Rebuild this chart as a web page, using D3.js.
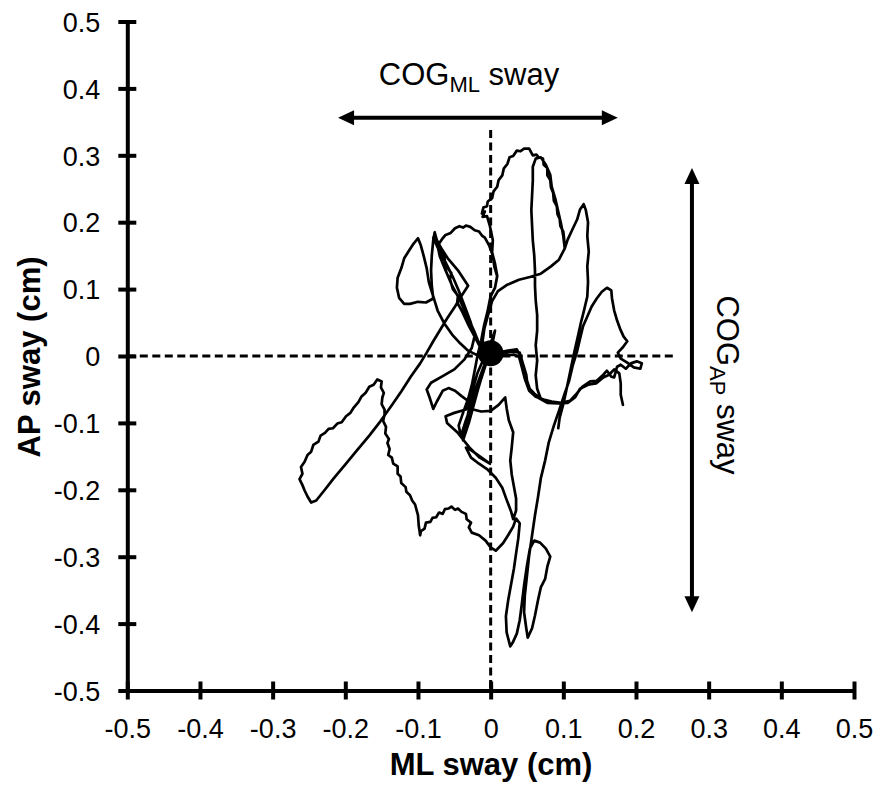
<!DOCTYPE html>
<html><head><meta charset="utf-8">
<script src="https://cdn.jsdelivr.net/npm/d3@7"></script>
<style>body{margin:0;background:#fff}svg{display:block}text{font-family:"Liberation Sans",Arial,sans-serif}</style>
</head><body><svg id="c" width="882" height="789"></svg>
<script>
const tickValues = [-0.5,-0.4,-0.3,-0.2,-0.1,0,0.1,0.2,0.3,0.4,0.5];
const tickLabels = ["-0.5","-0.4","-0.3","-0.2","-0.1","0","0.1","0.2","0.3","0.4","0.5"];
const xTitle = "ML sway (cm)";
const yTitle = "AP sway (cm)";
// COG trace, [ML, AP] in cm
const seg1 = [[0.093,-0.108],[0.095,-0.092],[0.100,-0.072],[0.104,-0.052],[0.108,-0.031],[0.112,-0.010],[0.116,0.010],[0.120,0.029],[0.124,0.049],[0.128,0.066],[0.133,0.089],[0.134,0.111],[0.133,0.134],[0.135,0.156],[0.133,0.179],[0.134,0.200],[0.131,0.218],[0.128,0.227],[0.123,0.219],[0.119,0.204],[0.112,0.188],[0.106,0.174],[0.102,0.161]];
const seg2 = [[0.101,0.176],[0.100,0.186],[0.096,0.194],[0.095,0.205],[0.092,0.212],[0.091,0.224],[0.087,0.232],[0.086,0.244],[0.083,0.252],[0.082,0.263],[0.078,0.270],[0.078,0.281],[0.073,0.286],[0.072,0.295],[0.066,0.297],[0.063,0.301],[0.058,0.300],[0.053,0.310],[0.046,0.310],[0.041,0.306],[0.036,0.307],[0.031,0.299],[0.026,0.297],[0.023,0.287],[0.018,0.280],[0.016,0.270],[0.011,0.263],[0.009,0.253],[0.004,0.246],[0.002,0.236],[-0.004,0.231],[-0.005,0.224],[-0.010,0.222],[-0.012,0.213],[-0.008,0.216],[-0.011,0.208],[-0.005,0.209],[-0.001,0.194],[0.003,0.173],[0.002,0.155],[0.006,0.138],[0.009,0.120],[0.006,0.102],[0.000,0.089],[-0.004,0.068],[-0.008,0.046],[-0.011,0.023],[-0.005,0.005]];
const seg3 = [[0.006,0.002],[0.017,0.004],[0.029,0.007],[0.040,0.005],[0.044,-0.010],[0.049,-0.028],[0.051,-0.046],[0.060,-0.056],[0.069,-0.064],[0.064,-0.049],[0.062,-0.029],[0.064,-0.007],[0.062,0.016],[0.064,0.038],[0.064,0.061],[0.062,0.083],[0.061,0.105],[0.061,0.128],[0.060,0.150],[0.058,0.173],[0.057,0.195],[0.056,0.218],[0.057,0.240],[0.058,0.262],[0.058,0.283],[0.062,0.295],[0.069,0.297],[0.076,0.286],[0.082,0.271],[0.084,0.253],[0.089,0.235],[0.093,0.216],[0.097,0.197],[0.100,0.179],[0.102,0.161],[0.094,0.144],[0.083,0.134],[0.069,0.123],[0.054,0.118],[0.039,0.114],[0.022,0.106],[0.010,0.097],[0.002,0.082],[-0.005,0.056],[-0.011,0.031],[-0.015,0.008],[-0.009,-0.004],[0.005,-0.001],[0.020,0.001],[0.032,0.002],[0.039,-0.001],[0.043,-0.017],[0.047,-0.034],[0.053,-0.052],[0.062,-0.061],[0.073,-0.065]];
const seg4 = [[0.084,-0.068],[0.097,-0.070],[0.109,-0.067],[0.117,-0.058],[0.126,-0.046],[0.137,-0.038],[0.146,-0.037],[0.155,-0.028],[0.160,-0.022],[0.166,-0.031],[0.170,-0.032],[0.174,-0.016],[0.179,-0.013],[0.186,-0.019],[0.193,-0.011],[0.201,-0.008],[0.208,-0.011]];
const seg5 = [[0.206,-0.019],[0.197,-0.017],[0.188,-0.010],[0.179,-0.004],[0.175,0.005],[0.182,0.013],[0.188,0.022],[0.183,0.029],[0.178,0.041],[0.174,0.053],[0.170,0.068],[0.167,0.086],[0.166,0.098],[0.160,0.102],[0.153,0.096],[0.146,0.086],[0.139,0.074],[0.133,0.059],[0.127,0.044],[0.123,0.026],[0.119,0.007],[0.113,-0.014],[0.108,-0.037],[0.101,-0.059],[0.094,-0.082],[0.087,-0.104],[0.080,-0.129],[0.075,-0.156],[0.069,-0.183],[0.065,-0.212],[0.061,-0.238],[0.057,-0.268],[0.053,-0.298],[0.050,-0.328],[0.047,-0.358],[0.046,-0.383],[0.049,-0.407],[0.051,-0.421]];
const seg6 = [[0.057,-0.407],[0.061,-0.388],[0.065,-0.366],[0.069,-0.346],[0.075,-0.333],[0.078,-0.315],[0.082,-0.300],[0.076,-0.288],[0.068,-0.279],[0.060,-0.276],[0.054,-0.288],[0.050,-0.313],[0.046,-0.343],[0.043,-0.370],[0.040,-0.395],[0.036,-0.415],[0.031,-0.427],[0.027,-0.434],[0.022,-0.413],[0.021,-0.389],[0.024,-0.366],[0.028,-0.342],[0.032,-0.318],[0.035,-0.295],[0.038,-0.273],[0.040,-0.250],[0.035,-0.243],[0.031,-0.255],[0.024,-0.268],[0.017,-0.280],[0.007,-0.291],[0.000,-0.286],[-0.007,-0.276],[-0.016,-0.268],[-0.026,-0.264],[-0.030,-0.256],[-0.027,-0.249],[-0.033,-0.244],[-0.034,-0.236],[-0.040,-0.233],[-0.045,-0.228],[-0.049,-0.230],[-0.054,-0.225],[-0.058,-0.228],[-0.063,-0.229],[-0.066,-0.236],[-0.071,-0.234],[-0.075,-0.241],[-0.080,-0.242],[-0.083,-0.248],[-0.089,-0.249],[-0.091,-0.258],[-0.096,-0.262],[-0.097,-0.268],[-0.099,-0.253],[-0.100,-0.238]];
const seg7 = [[-0.104,-0.222],[-0.108,-0.216],[-0.111,-0.208],[-0.116,-0.203],[-0.117,-0.196],[-0.123,-0.190],[-0.124,-0.180],[-0.128,-0.176],[-0.128,-0.165],[-0.134,-0.161],[-0.136,-0.152],[-0.141,-0.148],[-0.139,-0.139],[-0.142,-0.130],[-0.140,-0.124],[-0.145,-0.116],[-0.144,-0.106],[-0.148,-0.097],[-0.146,-0.088],[-0.146,-0.080],[-0.150,-0.072],[-0.149,-0.062],[-0.147,-0.055],[-0.151,-0.047],[-0.150,-0.038],[-0.156,-0.035],[-0.161,-0.043],[-0.167,-0.046],[-0.172,-0.055],[-0.178,-0.061],[-0.182,-0.069],[-0.189,-0.078],[-0.193,-0.085],[-0.199,-0.090],[-0.205,-0.099],[-0.211,-0.101],[-0.217,-0.108],[-0.223,-0.109],[-0.228,-0.115],[-0.234,-0.119],[-0.237,-0.128],[-0.244,-0.133],[-0.247,-0.143],[-0.252,-0.148],[-0.256,-0.158],[-0.261,-0.166],[-0.259,-0.176],[-0.263,-0.184],[-0.259,-0.193],[-0.256,-0.201],[-0.252,-0.210],[-0.247,-0.219],[-0.240,-0.216],[-0.229,-0.201],[-0.216,-0.183],[-0.199,-0.161],[-0.184,-0.141],[-0.167,-0.119],[-0.152,-0.098],[-0.137,-0.075],[-0.123,-0.053],[-0.110,-0.031],[-0.097,-0.011],[-0.088,0.005],[-0.079,0.022],[-0.070,0.038],[-0.060,0.056],[-0.049,0.074],[-0.040,0.090],[-0.031,0.105]];
const seg8 = [[-0.045,0.128],[-0.059,0.146],[-0.068,0.161],[-0.074,0.173],[-0.077,0.185],[-0.079,0.173],[-0.081,0.150],[-0.082,0.128],[-0.081,0.105],[-0.079,0.086],[-0.089,0.080],[-0.100,0.081],[-0.111,0.078],[-0.119,0.078],[-0.126,0.087],[-0.129,0.102],[-0.128,0.117],[-0.123,0.131],[-0.119,0.146],[-0.112,0.158],[-0.106,0.168],[-0.100,0.176],[-0.096,0.165],[-0.092,0.149],[-0.088,0.131],[-0.085,0.110],[-0.079,0.089],[-0.073,0.068],[-0.064,0.049],[-0.053,0.032],[-0.042,0.019],[-0.031,0.008],[-0.020,0.002],[-0.009,-0.001]];
const seg9 = [[-0.015,0.016],[-0.023,0.038],[-0.033,0.061],[-0.042,0.083],[-0.053,0.105],[-0.062,0.128],[-0.070,0.149],[-0.073,0.165],[-0.066,0.176],[-0.062,0.181],[-0.055,0.184],[-0.049,0.191],[-0.043,0.194],[-0.038,0.192],[-0.034,0.195],[-0.028,0.193],[-0.022,0.188],[-0.016,0.186],[-0.012,0.180],[-0.008,0.177],[-0.002,0.165],[0.003,0.150],[0.005,0.134],[0.009,0.119],[0.006,0.102],[0.000,0.090],[-0.004,0.068],[-0.009,0.046],[-0.013,0.023],[-0.018,0.001],[-0.022,-0.022],[-0.026,-0.044],[-0.031,-0.064],[-0.038,-0.085],[-0.044,-0.104],[-0.041,-0.120]];
const seg10 = [[-0.034,-0.096],[-0.023,-0.064],[-0.013,-0.034],[-0.005,-0.007],[0.002,0.016],[0.006,0.038],[-0.001,0.016],[-0.009,-0.014],[-0.019,-0.044],[-0.029,-0.074],[-0.032,-0.092],[-0.026,-0.067],[-0.016,-0.037],[-0.007,-0.010],[0.000,0.011],[-0.006,-0.008],[-0.016,-0.044],[-0.026,-0.074],[-0.035,-0.104],[-0.038,-0.126]];
const seg11 = [[-0.030,-0.100],[-0.024,-0.076],[-0.018,-0.052],[-0.012,-0.030],[-0.008,-0.012],[-0.012,0.008],[-0.020,0.025],[-0.030,0.045],[-0.040,0.068],[-0.046,0.080],[-0.045,0.090],[-0.052,0.100],[-0.056,0.115],[-0.054,0.124],[-0.062,0.135],[-0.064,0.150],[-0.070,0.160],[-0.074,0.171],[-0.079,0.177],[-0.072,0.160],[-0.062,0.140],[-0.052,0.118],[-0.044,0.098],[-0.036,0.075],[-0.028,0.052],[-0.022,0.030],[-0.026,0.012],[-0.036,-0.005],[-0.050,-0.020],[-0.066,-0.030],[-0.082,-0.040],[-0.088,-0.050],[-0.084,-0.062],[-0.079,-0.079],[-0.074,-0.068],[-0.066,-0.052],[-0.058,-0.048],[-0.049,-0.052],[-0.040,-0.060],[-0.030,-0.068],[-0.034,-0.080],[-0.050,-0.085],[-0.062,-0.090],[-0.060,-0.100],[-0.046,-0.114],[-0.029,-0.137],[-0.015,-0.152],[-0.001,-0.161],[-0.015,-0.150],[-0.028,-0.140]];
const seg12 = [[-0.034,-0.137],[-0.027,-0.152],[-0.016,-0.161],[-0.004,-0.170],[0.007,-0.182],[0.016,-0.197],[0.022,-0.215],[0.028,-0.232],[0.031,-0.244],[0.035,-0.231],[0.035,-0.213],[0.032,-0.195],[0.029,-0.177],[0.027,-0.156],[0.029,-0.137],[0.031,-0.114],[0.025,-0.096],[0.022,-0.078],[0.020,-0.062],[0.011,-0.073],[0.000,-0.082],[-0.013,-0.083],[-0.024,-0.080],[-0.029,-0.064],[-0.023,-0.044],[-0.018,-0.025],[-0.012,-0.010],[-0.005,0.001],[0.010,0.005],[0.024,0.008],[0.036,0.010],[0.042,-0.002],[0.046,-0.019],[0.050,-0.037],[0.055,-0.053],[0.065,-0.062],[0.078,-0.070],[0.093,-0.071],[0.106,-0.070],[0.116,-0.062],[0.123,-0.049],[0.134,-0.043],[0.145,-0.041],[0.155,-0.032],[0.163,-0.028],[0.170,-0.020],[0.177,-0.026],[0.179,-0.041],[0.179,-0.058],[0.182,-0.073]];
const meanPoint = [0, 0.004];
// reference dashed lines and arrows (cm)
const vGuide = {x: 0, y1: 0.338, y2: -0.5};
const hGuide = {y: 0, x1: -0.5, x2: 0.255};
const mlArrow = {y: 0.356, x1: -0.210, x2: 0.175};
const apArrow = {x: 0.277, y1: 0.281, y2: -0.383};

const trace = [].concat(seg1,seg2,seg3,seg4,seg5,seg6,seg7,seg8,seg9,seg10,seg11,seg12);

const svg = d3.select("#c");
svg.append("rect").attr("width",882).attr("height",789).attr("fill","#fff");
const x = d3.scaleLinear().domain([-0.5,0.5]).range([127.3,854]);
const y = d3.scaleLinear().domain([-0.5,0.5]).range([690.5,21.5]);
const FONT = '"Liberation Sans", Arial, sans-serif';

// dashed guides
svg.append("line").attr("x1",x(vGuide.x)).attr("x2",x(vGuide.x)).attr("y1",y(vGuide.y1)).attr("y2",y(vGuide.y2))
  .attr("stroke","#000").attr("stroke-width",3).attr("stroke-dasharray","8,4.5");
svg.append("line").attr("y1",y(hGuide.y)).attr("y2",y(hGuide.y)).attr("x1",x(hGuide.x1)).attr("x2",x(hGuide.x2))
  .attr("stroke","#000").attr("stroke-width",3).attr("stroke-dasharray","8,4.5");

// trace
svg.append("path").datum(trace)
  .attr("d", d3.line().x(d=>x(d[0])).y(d=>y(d[1])))
  .attr("fill","none").attr("stroke","#000").attr("stroke-width",2.7)
  .attr("stroke-linejoin","round").attr("stroke-linecap","round");

svg.append("circle").attr("cx",x(meanPoint[0])).attr("cy",y(meanPoint[1])).attr("r",13).attr("fill","#000");

// axes
const xAxis = d3.axisBottom(x).tickValues(tickValues).tickFormat((d,i)=>tickLabels[i]).tickSize(9).tickSizeOuter(0);
const gx = svg.append("g").attr("transform",`translate(0,${y(-0.5)})`).call(xAxis).attr("font-family",FONT);
gx.select(".domain").attr("stroke","#000").attr("stroke-width",4);
gx.selectAll(".tick line").attr("y1",-9).attr("y2",9).attr("stroke","#000").attr("stroke-width",4);
gx.selectAll(".tick text").attr("dy",null).attr("y",47).attr("font-size",27).attr("fill","#000");

const yAxis = d3.axisLeft(y).tickValues(tickValues).tickFormat((d,i)=>tickLabels[i]).tickSize(9).tickSizeOuter(0);
const gy = svg.append("g").attr("transform",`translate(${x(-0.5)},0)`).call(yAxis).attr("font-family",FONT);
gy.select(".domain").attr("stroke","#000").attr("stroke-width",4);
gy.selectAll(".tick line").attr("x1",-9).attr("x2",9).attr("stroke","#000").attr("stroke-width",4);
gy.selectAll(".tick text").attr("x",-27).attr("dy","0.36em").attr("font-size",27).attr("fill","#000");

// axis titles
svg.append("text").attr("x",491).attr("y",775).attr("text-anchor","middle")
  .attr("font-size",31).attr("font-weight","bold").attr("font-family",FONT).text(xTitle);
svg.append("text").attr("transform","translate(40,357) rotate(-90)").attr("text-anchor","middle")
  .attr("font-size",31).attr("font-weight","bold").attr("font-family",FONT).text(yTitle);

// arrows
function arrow(x1,y1,x2,y2){
  const L=16, W=7.5;
  const dx=x2-x1, dy=y2-y1, len=Math.hypot(dx,dy), ux=dx/len, uy=dy/len, px=-uy, py=ux;
  svg.append("line").attr("x1",x1+ux*(L-2)).attr("y1",y1+uy*(L-2)).attr("x2",x2-ux*(L-2)).attr("y2",y2-uy*(L-2))
    .attr("stroke","#000").attr("stroke-width",4);
  const head=(tx,ty,sx,sy)=>`M${tx},${ty}L${tx+sx*L+px*W},${ty+sy*L+py*W}L${tx+sx*L-px*W},${ty+sy*L-py*W}Z`;
  svg.append("path").attr("d",head(x1,y1,ux,uy)).attr("fill","#000");
  svg.append("path").attr("d",head(x2,y2,-ux,-uy)).attr("fill","#000");
}
arrow(x(mlArrow.x1),y(mlArrow.y),x(mlArrow.x2),y(mlArrow.y));
arrow(x(apArrow.x),y(apArrow.y1),x(apArrow.x),y(apArrow.y2));

// annotations
const t1 = svg.append("text").attr("x",469).attr("y",85).attr("text-anchor","middle").attr("font-size",31).attr("font-family",FONT);
t1.append("tspan").text("COG");
t1.append("tspan").attr("font-size",22).attr("dy",7).text("ML");
t1.append("tspan").attr("dy",-7).text(" sway");
const t2 = svg.append("text").attr("transform","translate(716.5,385) rotate(90)").attr("text-anchor","middle").attr("font-size",31).attr("font-family",FONT);
t2.append("tspan").text("COG");
t2.append("tspan").attr("font-size",22).attr("dy",7).text("AP");
t2.append("tspan").attr("dy",-7).text(" sway");
</script></body></html>
